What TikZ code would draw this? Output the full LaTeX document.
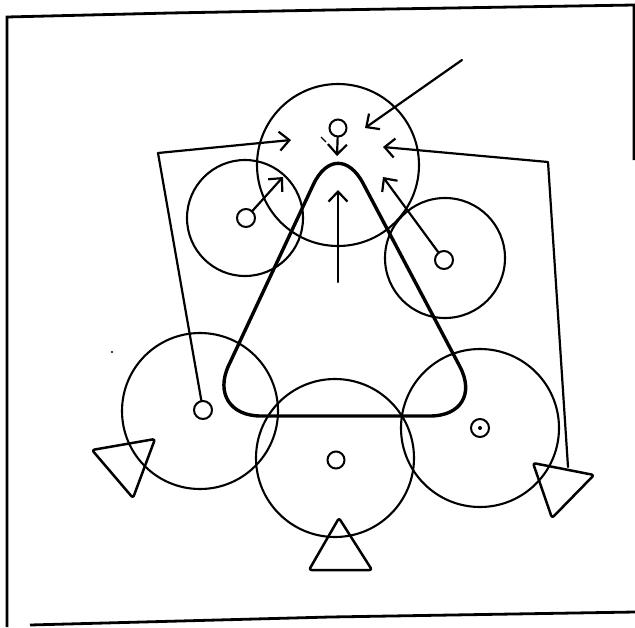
\documentclass[tikz,border=0pt]{standalone}
\usetikzlibrary{arrows.meta}
\begin{document}
\begin{tikzpicture}[x=1pt,y=-1pt,
  ink/.style={line width=2.2pt, line cap=round, line join=round},
  gear/.style={circle, draw, line width=2.1pt, inner sep=0pt},
  hole/.style={circle, draw, line width=2pt, inner sep=0pt, minimum size=18pt},
  arr/.style={ink, -{Straight Barb[length=10pt,width=19pt,line width=2.2pt]}},
  tri/.style={ink, line width=2.5pt, rounded corners=2.5pt}]
\useasboundingbox (0,0) rectangle (635,627);
% frame
\draw[line width=2.8pt] (30,625) -- (330,617) -- (635,612);
\draw[line width=2.8pt] (7,627) -- (7,17) -- (170,13) -- (330,10) -- (634,5) -- (634,160);
% gears
\node[gear, minimum size=162pt] (T) at (338,165) {};
\node[gear, minimum size=116pt] (UL) at (245,218) {};
\node[gear, minimum size=120pt] (UR) at (445,258) {};
\node[gear, minimum size=156pt] (LL) at (200,411) {};
\node[gear, minimum size=158pt] (B) at (335,458) {};
\node[gear, minimum size=158pt] (LR) at (480,428) {};
% holes
\node[hole, minimum size=17pt] (hT) at (338,128) {};
\node[hole] (hUL) at (246,218) {};
\node[hole] (hUR) at (444,260) {};
\node[hole] (hLL) at (203,410) {};
\node[hole, minimum size=17pt] (hB) at (336,460) {};
\node[hole] (hLR) at (480,428) {};
\fill (hLR) circle (2pt);
% belt
\draw[line width=3.4pt, line join=round, rounded corners=56pt] (205,416) -- (337,134) -- (486,416) -- cycle;
% arrows
\coordinate (tT) at (337,156);
\draw[arr] (hT) -- (tT);
\draw[line width=1.2pt] (321,137) -- (326,142);
\coordinate (aTR0) at (462,60);
\coordinate (aTR1) at (365,128);
\draw[arr] (aTR0) -- (aTR1);
\coordinate (aC0) at (338,282);
\coordinate (aC1) at (338,190);
\draw[arr] (aC0) -- (aC1);
\coordinate (aUL) at (283,177);
\draw[arr] (hUL) -- (aUL);
\coordinate (aUR) at (383,177);
\draw[arr] (hUR) -- (aUR);
% brackets
\coordinate (lb) at (158,153);
\coordinate (lt) at (291,140);
\draw[arr] (hLL) -- (lb) -- (lt);
\coordinate (rb0) at (568,467);
\coordinate (rb1) at (548,162);
\coordinate (rt) at (383,147);
\draw[arr] (rb0) -- (rb1) -- (rt);
% triangles
\coordinate (t1a) at (92,450);
\coordinate (t1b) at (155,439);
\coordinate (t1c) at (133,498);
\draw[tri] (t1a) -- (t1b) -- (t1c) -- cycle;
\coordinate (t2a) at (339,518);
\coordinate (t2b) at (309,570);
\coordinate (t2c) at (372,570);
\draw[tri] (t2a) -- (t2b) -- (t2c) -- cycle;
\coordinate (t3a) at (533,463);
\coordinate (t3b) at (594,475);
\coordinate (t3c) at (552,518);
\draw[tri] (t3a) -- (t3b) -- (t3c) -- cycle;
\fill (112,352) circle (1.2pt);
\end{tikzpicture}
\end{document}
